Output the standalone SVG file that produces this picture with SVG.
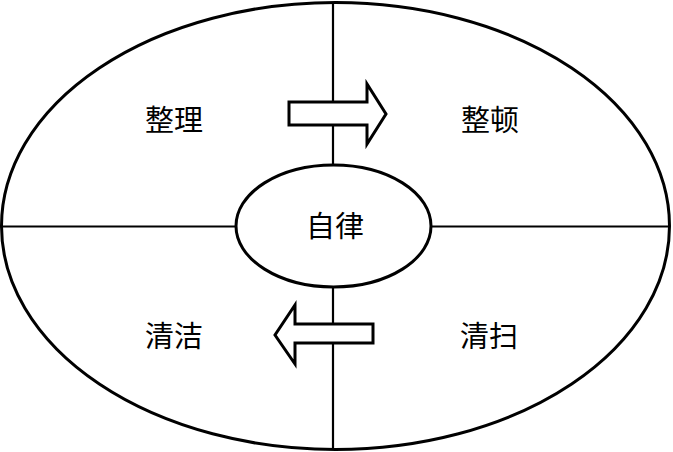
<svg xmlns="http://www.w3.org/2000/svg" width="673" height="452" viewBox="0 0 673 452">
<style>
.ln{stroke:#000;stroke-width:2.2;fill:none}
.sh{stroke:#000;stroke-width:3;fill:#fff}
.t{font-family:"Noto Sans CJK SC","Noto Sans CJK JP",sans-serif;font-size:29px;fill:#000;text-anchor:middle;dominant-baseline:central}
</style>
<rect width="673" height="452" fill="#fff"/>
<g id="outer"><ellipse class="sh" cx="335.5" cy="226" rx="334" ry="223.5"/></g>
<g id="connectors">
<line class="ln" x1="333" y1="2" x2="333" y2="450"/>
<line class="ln" x1="0" y1="226.5" x2="670" y2="226.5"/>
</g>
<g id="arrow-right"><polygon class="sh" points="289,102 367,102 367,84 386,114 367,144 367,125 289,125"/></g>
<g id="arrow-left"><polygon class="sh" points="373,324 295,324 295,305 275,335 295,364 295,343 373,343"/></g>
<g id="center"><ellipse class="sh" cx="333.5" cy="226" rx="97.5" ry="61"/><text class="t" x="335" y="224">自律</text></g>
<g id="n1"><text class="t" x="174" y="118">整理</text></g>
<g id="n2"><text class="t" x="490" y="118">整顿</text></g>
<g id="n3"><text class="t" x="174" y="334">清洁</text></g>
<g id="n4"><text class="t" x="489" y="334">清扫</text></g>
</svg>
